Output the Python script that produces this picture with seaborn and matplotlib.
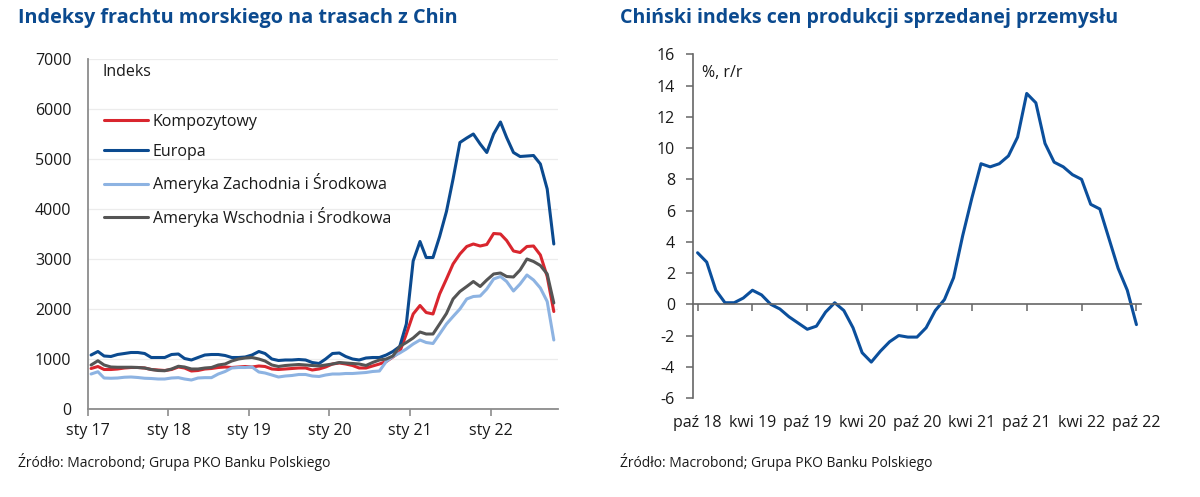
import matplotlib
matplotlib.use("Agg")
import matplotlib.pyplot as plt
import numpy as np
import pandas as pd
import seaborn as sns

# ---------------- data ----------------
series_names = ["Kompozytowy", "Europa", "Ameryka Zachodnia i Środkowa", "Ameryka Wschodnia i Środkowa"]
series_colors = ["#D9262E", "#0B4A8F", "#8DB3E2", "#555555"]

kompozytowy = [810, 850, 790, 790, 800, 820, 830, 830, 820, 790, 780, 770, 790, 840, 820, 760, 770, 800, 810, 830,
               840, 830, 840, 850, 840, 860, 850, 800, 790, 800, 810, 820, 820, 780, 800, 840, 900, 920, 900, 870,
               820, 820, 860, 900, 950, 1040, 1140, 1500, 1900, 2070, 1930, 1900, 2300, 2600, 2900, 3100, 3250, 3300,
               3260, 3290, 3510, 3500, 3370, 3160, 3130, 3250, 3260, 3080, 2650, 1950]
europa = [1080, 1150, 1060, 1050, 1090, 1110, 1130, 1130, 1110, 1030, 1030, 1030, 1090, 1100, 1010, 980, 1030, 1080,
          1090, 1090, 1070, 1030, 1030, 1040, 1080, 1150, 1110, 1000, 970, 980, 980, 990, 980, 930, 910, 1000, 1110,
          1120, 1050, 1000, 980, 1020, 1030, 1030, 1080, 1150, 1250, 1700, 2960, 3350, 3030, 3030, 3450, 3950, 4600,
          5330, 5420, 5500, 5300, 5130, 5500, 5740, 5430, 5130, 5050, 5060, 5070, 4900, 4400, 3300]
ameryka_zach = [700, 745, 620, 615, 620, 635, 640, 630, 615, 610, 600, 600, 620, 627, 600, 580, 620, 627, 627, 700,
                750, 820, 830, 830, 840, 740, 720, 680, 640, 660, 670, 690, 690, 660, 650, 680, 700, 700, 710, 710,
                720, 730, 750, 760, 950, 1050, 1120, 1200, 1300, 1380, 1330, 1310, 1500, 1700, 1850, 2000, 2200,
                2250, 2260, 2400, 2600, 2650, 2550, 2360, 2500, 2680, 2580, 2420, 2150, 1380]
ameryka_wsch = [880, 965, 880, 840, 835, 835, 835, 830, 820, 790, 770, 765, 800, 855, 840, 800, 800, 820, 830, 880,
                900, 960, 1000, 1020, 1030, 1000, 960, 880, 850, 870, 880, 890, 880, 870, 860, 880, 900, 930, 920, 910,
                900, 870, 930, 980, 1000, 1060, 1250, 1330, 1420, 1540, 1500, 1500, 1700, 1910, 2200, 2350, 2450,
                2550, 2450, 2580, 2700, 2720, 2650, 2640, 2780, 3000, 2950, 2870, 2700, 2120]
freight_dates = pd.date_range("2017-01-01", periods=70, freq="MS") + pd.Timedelta(days=14)
freight_ticks = pd.date_range("2017-01-01", periods=6, freq="YS")
freight_tick_labels = ["sty 17", "sty 18", "sty 19", "sty 20", "sty 21", "sty 22"]

ppi_values = [3.3, 2.7, 0.9, 0.1, 0.1, 0.4, 0.9, 0.6, 0.0, -0.3, -0.8, -1.2, -1.6, -1.4, -0.5, 0.1, -0.4, -1.5,
              -3.1, -3.7, -3.0, -2.4, -2.0, -2.1, -2.1, -1.5, -0.4, 0.3, 1.7, 4.4, 6.8, 9.0, 8.8, 9.0, 9.5, 10.7,
              13.5, 12.9, 10.3, 9.1, 8.8, 8.3, 8.0, 6.4, 6.1, 4.2, 2.3, 0.9, -1.3]
ppi_month_index = list(range(len(ppi_values)))
ppi_tick_labels = ["paź 18", "kwi 19", "paź 19", "kwi 20", "paź 20", "kwi 21", "paź 21", "kwi 22", "paź 22"]

# ---------------- style ----------------
sns.set_theme(style="white")
FONT = ["Open Sans", "DejaVu Sans"]
plt.rcParams["font.family"] = FONT
plt.rcParams["axes.unicode_minus"] = False
TXT = "#1a1a1a"
BLUE_T = "#0B4A8F"

W, H = 1200, 497


def fx(px):
    return px / W


def fy(py):
    return 1 - py / H


df = pd.DataFrame({
    "date": np.tile(freight_dates, 4),
    "value": kompozytowy + europa + ameryka_zach + ameryka_wsch,
    "series": np.repeat(series_names, 70),
})

fig = plt.figure(figsize=(12, 4.97), dpi=100)
ax1 = fig.add_axes([fx(88), fy(409), 470 / W, 350 / H])
ax2 = fig.add_axes([fx(693), fy(398), 448 / W, 343.6 / H])

# ---- left chart ----
sns.lineplot(data=df, x="date", y="value", hue="series", hue_order=series_names,
             palette=dict(zip(series_names, series_colors)), linewidth=2.2, ax=ax1)
ax1.set_ylim(0, 7000)
ax1.set_yticks(range(0, 7001, 1000))
ax1.set_xlim(pd.Timestamp("2017-01-01"), pd.Timestamp("2022-11-03"))
ax1.set_xticks(freight_ticks)
ax1.set_xticklabels(freight_tick_labels)
ax1.set_xlabel("")
ax1.set_ylabel("")
ax1.grid(axis="y", color="#ececec", linewidth=0.9)
ax1.set_axisbelow(True)
for s in ["top", "right"]:
    ax1.spines[s].set_visible(False)
for s in ["left", "bottom"]:
    ax1.spines[s].set_color("#8c8c8c")
    ax1.spines[s].set_linewidth(1.3)
ax1.tick_params(axis="y", length=0, pad=12, labelsize=11.5, labelcolor=TXT)
ax1.tick_params(axis="x", length=5, width=1.2, color="#8c8c8c", direction="out", pad=5,
                labelsize=11.5, labelcolor=TXT, bottom=True)
handles, labels = ax1.get_legend_handles_labels()
ax1.legend(handles, labels, loc="upper left", bbox_to_anchor=(0.034, 0.843), frameon=False,
           borderaxespad=0, borderpad=0, handlelength=2.75, handletextpad=0.3, labelspacing=0.85,
           fontsize=11.5, labelcolor=TXT)
fig.text(fx(103), fy(72), "Indeks", fontsize=11.5, color=TXT, va="center", ha="left")

# ---- right chart ----
sns.lineplot(x=ppi_month_index, y=ppi_values, color="#0B4F9C", linewidth=2.2, ax=ax2)
ax2.set_ylim(-6, 16)
ax2.set_yticks(range(-6, 17, 2))
ax2.set_xlim(-0.5, 48.5)
ax2.set_xticks(range(0, 49, 6))
ax2.set_xticklabels(ppi_tick_labels)
for s in ["top", "right"]:
    ax2.spines[s].set_visible(False)
ax2.spines["bottom"].set_position(("data", 0))
for s in ["left", "bottom"]:
    ax2.spines[s].set_color("#666666")
    ax2.spines[s].set_linewidth(1.2)
ax2.tick_params(axis="y", length=5, width=1.1, color="#666666", direction="out", pad=8,
                labelsize=11.5, labelcolor=TXT, left=True)
ax2.tick_params(axis="x", length=5, width=1.1, color="#666666", direction="out", pad=75,
                labelsize=11.5, labelcolor=TXT, bottom=True)
fig.text(fx(702), fy(73), "%, r/r", fontsize=11.5, color=TXT, va="center", ha="left")

# ---- titles & sources ----
fig.text(fx(18), fy(18), "Indeksy frachtu morskiego na trasach z Chin", ha="left", va="center",
         fontsize=14.3, fontweight="bold", color=BLUE_T)
fig.text(fx(620), fy(18), "Chiński indeks cen produkcji sprzedanej przemysłu", ha="left", va="center",
         fontsize=14.1, fontweight="bold", color=BLUE_T)
fig.text(fx(18), fy(462), "Źródło: Macrobond; Grupa PKO Banku Polskiego", ha="left", va="center",
         fontsize=10, color=TXT)
fig.text(fx(620), fy(462), "Źródło: Macrobond; Grupa PKO Banku Polskiego", ha="left", va="center",
         fontsize=10, color=TXT)

fig.savefig("out.png", dpi=100)
